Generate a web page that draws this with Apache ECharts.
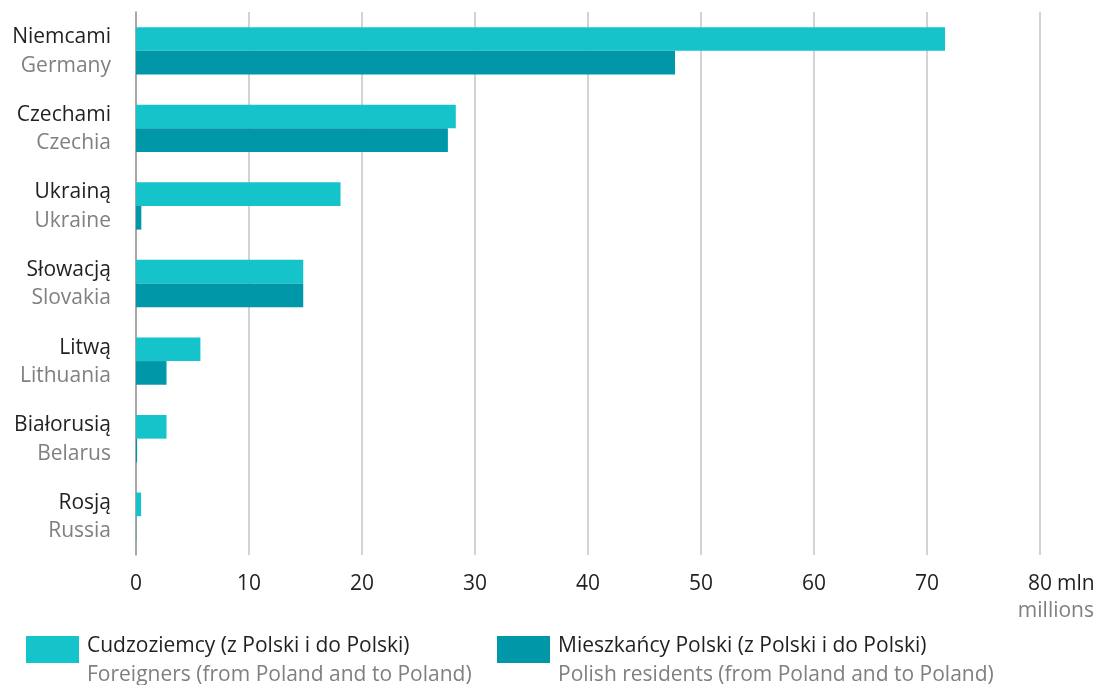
<!DOCTYPE html>
<html>
<head>
<meta charset="utf-8">
<script src="https://cdn.jsdelivr.net/npm/echarts@6/dist/echarts.min.js"></script>
<style>
  html, body { margin: 0; padding: 0; background: #ffffff; }
  #chart { width: 1098px; height: 685px; }
</style>
</head>
<body>
<div id="chart"></div>
<script>
// Border partners: Polish name and English name
const countriesPl = ['Niemcami', 'Czechami', 'Ukrainą', 'Słowacją', 'Litwą', 'Białorusią', 'Rosją'];
const countriesEn = ['Germany', 'Czechia', 'Ukraine', 'Slovakia', 'Lithuania', 'Belarus', 'Russia'];

// Border crossings, millions
const foreigners = [71.6, 28.3, 18.1, 14.8, 5.7, 2.7, 0.45];
const residents = [47.7, 27.6, 0.47, 14.8, 2.7, 0.1, 0.02];

// Series names (Polish / English)
const seriesPl = ['Cudzoziemcy (z Polski i do Polski)', 'Mieszkańcy Polski (z Polski i do Polski)'];
const seriesEn = ['Foreigners (from Poland and to Poland)', 'Polish residents (from Poland and to Poland)'];

// Value axis
const axisMin = 0;
const axisMax = 80;
const axisStep = 10;
const unitPl = 'mln';
const unitEn = 'millions';

const FONT = 'Open Sans';
const FS = 21;
const DARK = '#231f20';
const GREY = '#808080';
const COLORS = ['#14c4ca', '#0098a8'];
const GRID_TOP = 12;
const GRID_BOTTOM = 130;
const LABEL_MARGIN = 19;

const chart = echarts.init(document.getElementById('chart'), null, { renderer: 'canvas' });

const categories = countriesPl.map((pl, i) => pl + '|' + countriesEn[i]);

chart.setOption({
  animation: false,
  backgroundColor: '#ffffff',
  textStyle: { fontFamily: FONT },
  grid: { left: 136, right: 58, top: GRID_TOP, bottom: GRID_BOTTOM, containLabel: false },
  xAxis: {
    type: 'value',
    min: axisMin,
    max: axisMax,
    interval: axisStep,
    axisLine: { show: false },
    axisTick: { show: false },
    splitLine: { show: true, lineStyle: { color: '#c4c4c4', width: 1.5 } },
    axisLabel: {
      margin: LABEL_MARGIN,
      fontFamily: FONT,
      fontSize: FS,
      color: DARK,
      formatter: function (v) { return String(v); }
    }
  },
  yAxis: {
    type: 'category',
    inverse: true,
    data: categories,
    axisLine: { show: true, lineStyle: { color: '#9a9a9a', width: 1.5 } },
    axisTick: { show: false },
    splitLine: { show: false },
    axisLabel: {
      margin: 25,
      align: 'right',
      formatter: function (v) {
        const parts = v.split('|');
        return '{a|' + parts[0] + '}\n{b|' + parts[1] + '}';
      },
      rich: {
        a: { fontFamily: FONT, fontSize: FS, color: DARK, lineHeight: 30, align: 'right', padding: [3, 0, 0, 0] },
        b: { fontFamily: FONT, fontSize: FS, color: GREY, lineHeight: 30, align: 'right' }
      }
    }
  },
  series: [
    {
      name: seriesPl[0],
      type: 'bar',
      data: foreigners,
      itemStyle: { color: COLORS[0] },
      barGap: '0%',
      barCategoryGap: '39%'
    },
    {
      name: seriesPl[1],
      type: 'bar',
      data: residents,
      itemStyle: { color: COLORS[1] },
      barGap: '0%',
      barCategoryGap: '39%'
    }
  ]
});

// Unit captions beside the last tick label, and the two-line key below the plot
const xEnd = chart.convertToPixel({ xAxisIndex: 0 }, axisMax);
const plotBottom = 685 - GRID_BOTTOM;
const keyX = [26, 497];
const graphics = [
  {
    type: 'text',
    left: xEnd + 17,
    top: plotBottom + LABEL_MARGIN,
    style: { text: unitPl, fontFamily: FONT, fontSize: FS, fill: DARK }
  },
  {
    type: 'text',
    right: 4,
    top: 601,
    style: { text: unitEn, fontFamily: FONT, fontSize: FS, fill: GREY }
  }
];
seriesPl.forEach(function (name, i) {
  graphics.push({
    type: 'rect',
    left: keyX[i],
    top: 636,
    shape: { width: 53, height: 27 },
    style: { fill: COLORS[i] }
  });
  graphics.push({
    type: 'text',
    left: keyX[i] + 61,
    top: 636,
    style: {
      text: '{a|' + name + '}\n{b|' + seriesEn[i] + '}',
      rich: {
        a: { fontFamily: FONT, fontSize: FS, fill: DARK, lineHeight: 29 },
        b: { fontFamily: FONT, fontSize: FS, fill: GREY, lineHeight: 29 }
      }
    }
  });
});
chart.setOption({ graphic: graphics });
</script>
</body>
</html>
